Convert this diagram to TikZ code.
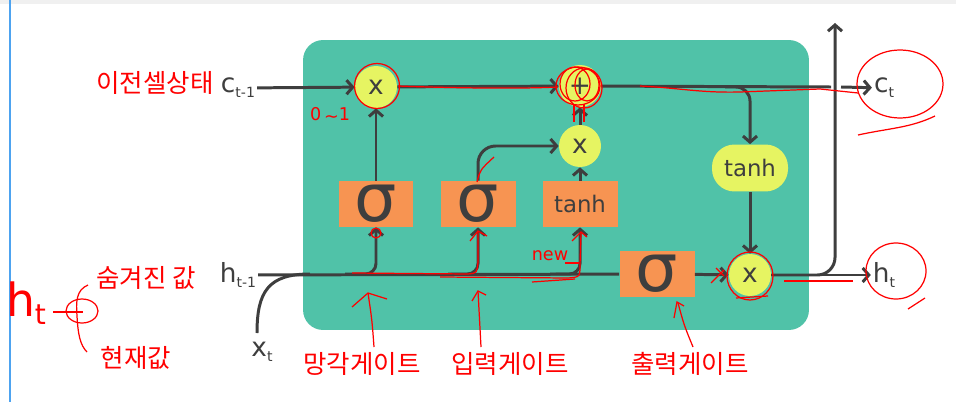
\documentclass[tikz,border=0pt]{standalone}
\usepackage{fontspec}
\setmainfont{DejaVu Sans}
\newfontfamily\kr{Noto Sans CJK KR}
\usetikzlibrary{arrows.meta}

\definecolor{cellteal}{RGB}{80,194,168}
\definecolor{opyellow}{RGB}{230,244,98}
\definecolor{gateorange}{RGB}{247,148,82}
\definecolor{wire}{RGB}{62,62,62}
\definecolor{sidebar}{RGB}{77,163,240}

\newcommand\subtxt[2]{#1\raisebox{-0.35ex}{\fontsize{8}{8}\selectfont #2}}

\begin{document}
\begin{tikzpicture}[x=0.02cm, y=-0.02cm,
  line/.style={draw=wire, line width=1.7pt},
  arrow/.style={line, -{Straight Barb[length=3.5pt,width=8pt]}},
  mult/.style={circle, fill=opyellow, minimum size=0.84cm, inner sep=0pt, text=wire, font=\fontsize{15}{15}\selectfont},
  gate/.style={rectangle, fill=gateorange, minimum width=1.5cm, minimum height=0.92cm, inner sep=0pt, text=wire},
  sigmagate/.style={gate, font=\fontsize{38}{38}\selectfont},
  tanhgate/.style={gate, font=\fontsize{13}{13}\selectfont},
  tanhop/.style={rectangle, rounded corners=0.45cm, fill=opyellow, minimum width=1.52cm, minimum height=0.94cm, inner sep=0pt, text=wire, font=\fontsize{13}{13}\selectfont},
  signal/.style={text=wire, inner sep=1pt, font=\fontsize{15}{15}\selectfont},
  note/.style={text=red, inner sep=0pt, font=\kr\fontsize{14.5}{16}\selectfont},
  pen/.style={red, line width=0.7pt}
]
\useasboundingbox (0,0) rectangle (956,402);
\fill[white] (0,0) rectangle (956,402);
\fill[gray!12] (0,0) rectangle (956,4);
\draw[sidebar, line width=1.4pt] (10,0) -- (10,402);

\node (cell) [rectangle, rounded corners=0.4cm, fill=cellteal, minimum width=10.12cm, minimum height=5.8cm] at (556,185) {};

\node (cprev) [signal] at (238,88) {\subtxt{c}{t-1}};
\node (hprev) [signal] at (238,275) {\subtxt{h}{t-1}};
\node (xt) [signal] at (262,352) {\subtxt{x}{t}};
\node (ct) [signal] at (884,88) {\subtxt{c}{t}};
\node (ht) [signal] at (884,275) {\subtxt{h}{t}};

\node (fmul) [mult] at (376,87) {x};
\node (add) [mult] at (580,86) {+};
\node (imul) [mult] at (580,146) {x};
\node (tanhy) [tanhop] at (750,168) {tanh};
\node (omul) [mult] at (750,275) {x};

\node (fsig) [sigmagate] at (376,204) {σ};
\node (isig) [sigmagate] at (478,204) {σ};
\node (tanho) [tanhgate] at (580,204) {tanh};
\node (osig) [sigmagate] at (657,274) {σ};

\coordinate (gapL) at (831,87);
\coordinate (gapR) at (841,87);
\coordinate (cbr) at (725,87);
\coordinate (xin) at (257,333);
\coordinate (hjoin) at (310,274);
\coordinate (fbr) at (345,274);
\coordinate (ibr) at (448,274);
\coordinate (tbr) at (550,274);
\coordinate (hup) at (835,23);

\draw [arrow] (cprev) -- (fmul);
\draw [arrow] (fmul) -- (add);
\draw [line] (add) -- (gapL);
\draw [arrow] (gapR) -- (ct);
\draw [arrow, rounded corners=8pt] (cbr) -| (tanhy);
\draw [arrow] (tanhy) -- (omul);

\draw [line] (hprev) -- (osig);
\draw [line] (xin) .. controls (257,292) and (268,274) .. (hjoin);
\draw [arrow, rounded corners=6pt] (fbr) -| (fsig);
\draw [arrow, rounded corners=6pt] (ibr) -| (isig);
\draw [arrow, rounded corners=6pt] (tbr) -| (tanho);
\draw [arrow] (fsig) -- (fmul);
\draw [arrow, rounded corners=10pt] (isig.north) |- (imul);
\draw [arrow] (tanho) -- (imul);
\draw [arrow] (imul) -- (add);
\draw [arrow] (osig) -- (omul);
\draw [arrow, rounded corners=10pt] (omul) -| (hup);
\draw [arrow] (omul) -- (ht);

\node (prevstate) [note] at (155,83) {이전셀상태};
\node (hidden) [note] at (146,278) {숨겨진 값};
\node (current) [note] at (136,358) {현재값};
\node (forgetlbl) [note] at (362,364) {망각게이트};
\node (inputlbl) [note] at (510,364) {입력게이트};
\node (outputlbl) [note] at (690,364) {출력게이트};
\node (range) [text=red, inner sep=0pt, font=\fontsize{10}{10}\selectfont] at (330,115) {0\,{\raisebox{-0.2ex}{\textasciitilde}}1};
\node (newlbl) [text=red, inner sep=0pt, font=\fontsize{10}{10}\selectfont] at (550,256) {new};
\node (htnote) [text=red, inner sep=0pt, font=\fontsize{26}{26}\selectfont] at (26,303) {h\raisebox{-0.3ex}{\fontsize{16}{16}\selectfont t}};

\draw[pen] (53,312) -- (83,312);
\draw[pen] (82,311) ellipse (0.32cm and 0.24cm);
\draw[pen] (88,285) .. controls (76,290) and (76,302) .. (77,316) .. controls (78,334) and (80,345) .. (87,352);

\draw[pen] (377,86) circle (0.45cm);
\draw[pen] (578,86) ellipse (0.44cm and 0.38cm);
\draw[pen] (584,88) ellipse (0.36cm and 0.40cm);
\draw[pen] (575,84) ellipse (0.30cm and 0.34cm);
\draw[pen] (587,85) ellipse (0.24cm and 0.32cm);
\draw[pen] (574,104) -- (574,122);
\draw[pen] (584,104) -- (584,122);
\draw[pen] (398,86) .. controls (450,88) and (520,89) .. (558,87);
\draw[pen] (640,86) .. controls (680,88) and (700,93) .. (740,92) -- (820,89) -- (858,93);
\draw[pen] (900,84) ellipse (0.86cm and 0.68cm);
\draw[pen] (935,116) .. controls (910,128) and (890,128) .. (858,135);

\draw[pen] (376,233) circle (0.1cm);
\draw[pen] (352,273) -- (468,274) .. controls (477,273) .. (478,262) -- (478,232);
\draw[pen] (470,241) -- (478,231) -- (487,236);
\draw[pen] (477,182) .. controls (480,170) .. (494,157);
\draw[pen] (440,277) -- (568,278) .. controls (580,277) .. (580,265) -- (581,233);
\draw[pen] (532,282) -- (575,279);
\draw[pen] (572,241) -- (581,232) -- (587,237);
\draw[pen] (565,263) -- (579,263);

\draw[pen] (750,276) ellipse (0.46cm and 0.48cm);
\draw[pen] (736,298) -- (768,296);
\draw[pen] (711,283) -- (724,270);
\draw[pen] (716,268) -- (724,276);
\draw[pen] (784,281) -- (853,281);
\draw[pen] (896,271) ellipse (0.6cm and 0.56cm);
\draw[pen] (925,298) -- (908,309);

\draw[pen] (374,347) .. controls (372,320) .. (368,293);
\draw[pen] (352,307) -- (368,293) -- (387,299);
\draw[pen] (481,347) -- (478,291);
\draw[pen] (472,301) -- (478,291) -- (486,295);
\draw[pen] (693,347) .. controls (684,325) .. (678,303);
\draw[pen] (674,318) -- (677,302) -- (684,306);

\end{tikzpicture}
\end{document}
